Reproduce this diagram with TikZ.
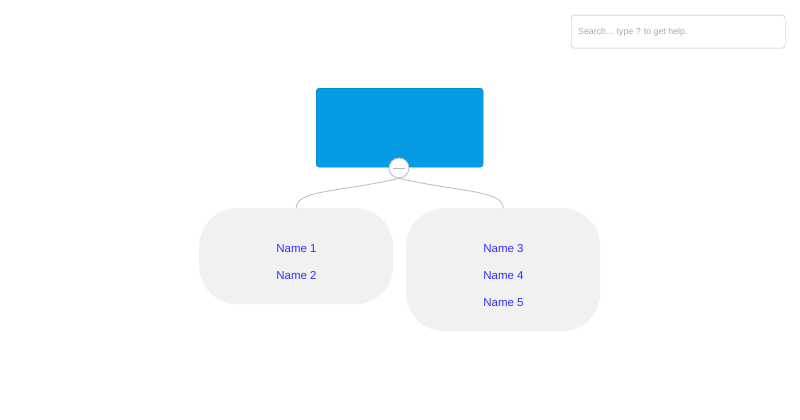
\documentclass[tikz,border=0pt]{standalone}
\usepackage{fontspec}
\setmainfont{Liberation Sans}
\definecolor{rootblue}{HTML}{069BE5}
\definecolor{groupgray}{HTML}{F1F1F1}
\definecolor{namefg}{HTML}{3030FF}
\definecolor{linegray}{HTML}{BBBBBB}
\definecolor{hintgray}{HTML}{A8A8A8}
\tikzset{
  groupbox/.style={fill=groupgray, rounded corners=38pt, minimum width=194pt, inner sep=0pt},
  namelabel/.style={text=namefg, font=\fontsize{11.5}{13}\selectfont},
  link/.style={draw=linegray, line width=0.8pt}
}
\begin{document}
\begin{tikzpicture}[x=1pt,y=-1pt]
\useasboundingbox (0,0) rectangle (800,420);
% search field
\node[draw=linegray, rounded corners=3pt, minimum width=214pt, minimum height=33pt,
      anchor=north west, inner sep=0pt] (search) at (571,15) {};
\node[anchor=west, text=hintgray, font=\fontsize{8.8}{10}\selectfont, inner sep=0pt]
      (searchtext) at (578,32) {Search... type ? to get help.};
% root
\node[fill=rootblue, draw=rootblue!80!black, rounded corners=3pt, minimum width=167pt,
      minimum height=79pt, anchor=north west, inner sep=0pt, line width=0.3pt] (root) at (316,88) {};
% groups
\node[groupbox, minimum height=96pt, anchor=north west] (left) at (199,208) {};
\node[groupbox, minimum height=123pt, anchor=north west] (right) at (406,208) {};
\foreach \i/\y in {1/249,2/276}
  \node[namelabel] (n\i) at (296.5,\y) {Name \i};
\foreach \i/\y in {3/249,4/276,5/303}
  \node[namelabel] (n\i) at (503.5,\y) {Name \i};
% connectors
\node[circle, draw=linegray, fill=white, minimum size=20pt, inner sep=0pt, line width=0.8pt]
      (toggle) at (399,168) {};
\draw[linegray, line width=0.8pt] ([xshift=-6pt]toggle.center) -- ([xshift=6pt]toggle.center);
\draw[link] (toggle.south) .. controls (340,192) and (296,190) .. (left.north);
\draw[link] (toggle.south) .. controls (458,192) and (503,190) .. (right.north);
\end{tikzpicture}
\end{document}
